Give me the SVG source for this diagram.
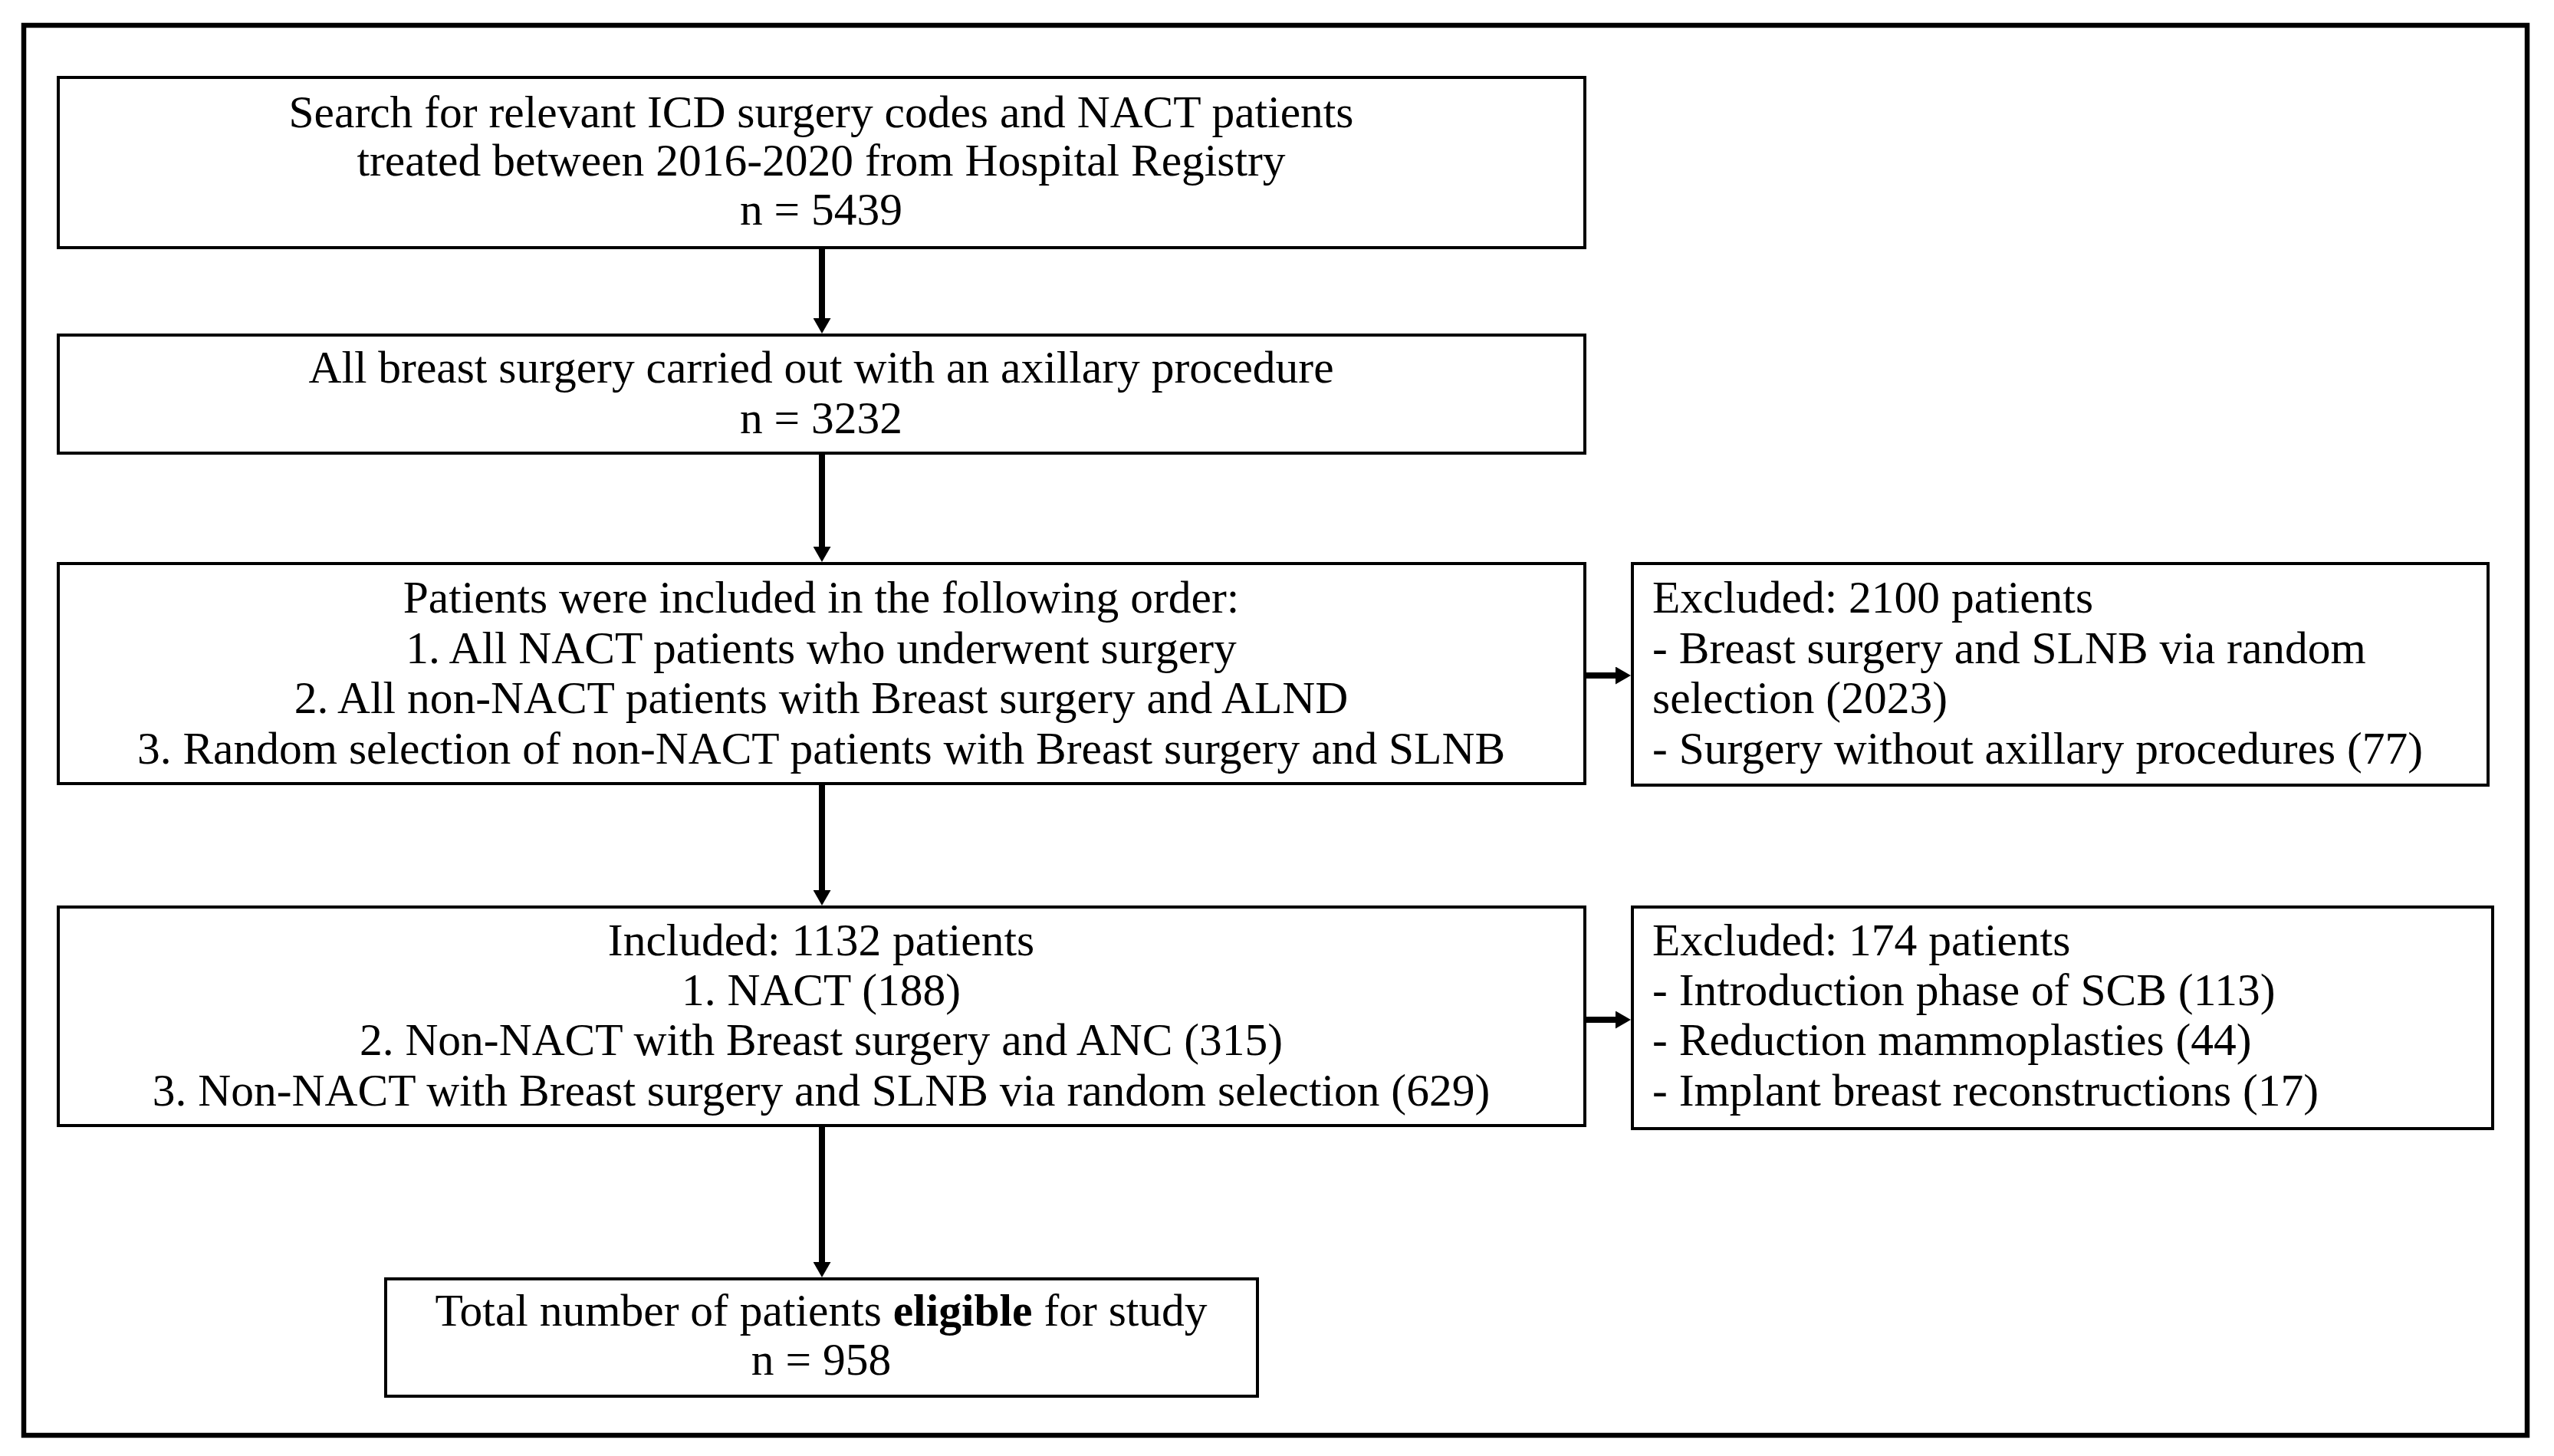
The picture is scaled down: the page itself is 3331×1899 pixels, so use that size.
<svg xmlns="http://www.w3.org/2000/svg" width="3331" height="1899" viewBox="0 0 3331 1899">
<defs>
<style>
.box{fill:#fff;stroke:#000;stroke-width:4}
.t{font-family:"Liberation Serif","Times New Roman",serif;font-size:59.5px;fill:#000}
.c{text-anchor:middle}
.conn{stroke:#000;stroke-width:8;fill:none}
</style>
<marker id="ah" markerUnits="userSpaceOnUse" markerWidth="20" markerHeight="23" viewBox="0 0 20 23" refX="6" refY="11.5" orient="auto">
<path d="M0,0 L20,11.5 L0,23 Z" fill="#000"/>
</marker>
</defs>
<rect x="0" y="0" width="3331" height="1899" fill="#fff"/>
<rect x="31" y="33" width="3265" height="1839" fill="none" stroke="#000" stroke-width="6.5"/>

<g id="connectors">
<line class="conn" x1="1072" y1="325" x2="1072" y2="421" marker-end="url(#ah)"/>
<line class="conn" x1="1072" y1="593" x2="1072" y2="719" marker-end="url(#ah)"/>
<line class="conn" x1="1072" y1="1024" x2="1072" y2="1167" marker-end="url(#ah)"/>
<line class="conn" x1="1072" y1="1470" x2="1072" y2="1652" marker-end="url(#ah)"/>
<line class="conn" x1="2069" y1="881" x2="2113" y2="881" marker-end="url(#ah)"/>
<line class="conn" x1="2069" y1="1330" x2="2113" y2="1330" marker-end="url(#ah)"/>
</g>

<g id="node-search">
<rect class="box" x="76" y="101" width="1991" height="222"/>
<text class="t c" x="1071" y="166">Search for relevant ICD surgery codes and NACT patients</text>
<text class="t c" x="1071" y="229">treated between 2016-2020 from Hospital Registry</text>
<text class="t c" x="1071" y="293">n = 5439</text>
</g>

<g id="node-all-surgery">
<rect class="box" x="76" y="437" width="1991" height="154"/>
<text class="t c" x="1071" y="499">All breast surgery carried out with an axillary procedure</text>
<text class="t c" x="1071" y="565">n = 3232</text>
</g>

<g id="node-order">
<rect class="box" x="76" y="735" width="1991" height="287"/>
<text class="t c" x="1071" y="799">Patients were included in the following order:</text>
<text class="t c" x="1071" y="865">1. All NACT patients who underwent surgery</text>
<text class="t c" x="1071" y="930">2. All non-NACT patients with Breast surgery and ALND</text>
<text class="t c" x="1071" y="996">3. Random selection of non-NACT patients with Breast surgery and SLNB</text>
</g>

<g id="node-excluded-1">
<rect class="box" x="2129" y="735" width="1116" height="289"/>
<text class="t" x="2155" y="799">Excluded: 2100 patients</text>
<text class="t" x="2155" y="865">- Breast surgery and SLNB via random</text>
<text class="t" x="2155" y="930">selection (2023)</text>
<text class="t" x="2155" y="996">- Surgery without axillary procedures (77)</text>
</g>

<g id="node-included">
<rect class="box" x="76" y="1183" width="1991" height="285"/>
<text class="t c" x="1071" y="1246">Included: 1132 patients</text>
<text class="t c" x="1071" y="1311">1. NACT (188)</text>
<text class="t c" x="1071" y="1376">2. Non-NACT with Breast surgery and ANC (315)</text>
<text class="t c" x="1071" y="1442">3. Non-NACT with Breast surgery and SLNB via random selection (629)</text>
</g>

<g id="node-excluded-2">
<rect class="box" x="2129" y="1183" width="1122" height="289"/>
<text class="t" x="2155" y="1246">Excluded: 174 patients</text>
<text class="t" x="2155" y="1311">- Introduction phase of SCB (113)</text>
<text class="t" x="2155" y="1376">- Reduction mammoplasties (44)</text>
<text class="t" x="2155" y="1442">- Implant breast reconstructions (17)</text>
</g>

<g id="node-eligible">
<rect class="box" x="503" y="1668" width="1137" height="153"/>
<text class="t c" x="1071" y="1729">Total number of patients <tspan font-weight="bold">eligible</tspan> for study</text>
<text class="t c" x="1071" y="1793">n = 958</text>
</g>
</svg>
